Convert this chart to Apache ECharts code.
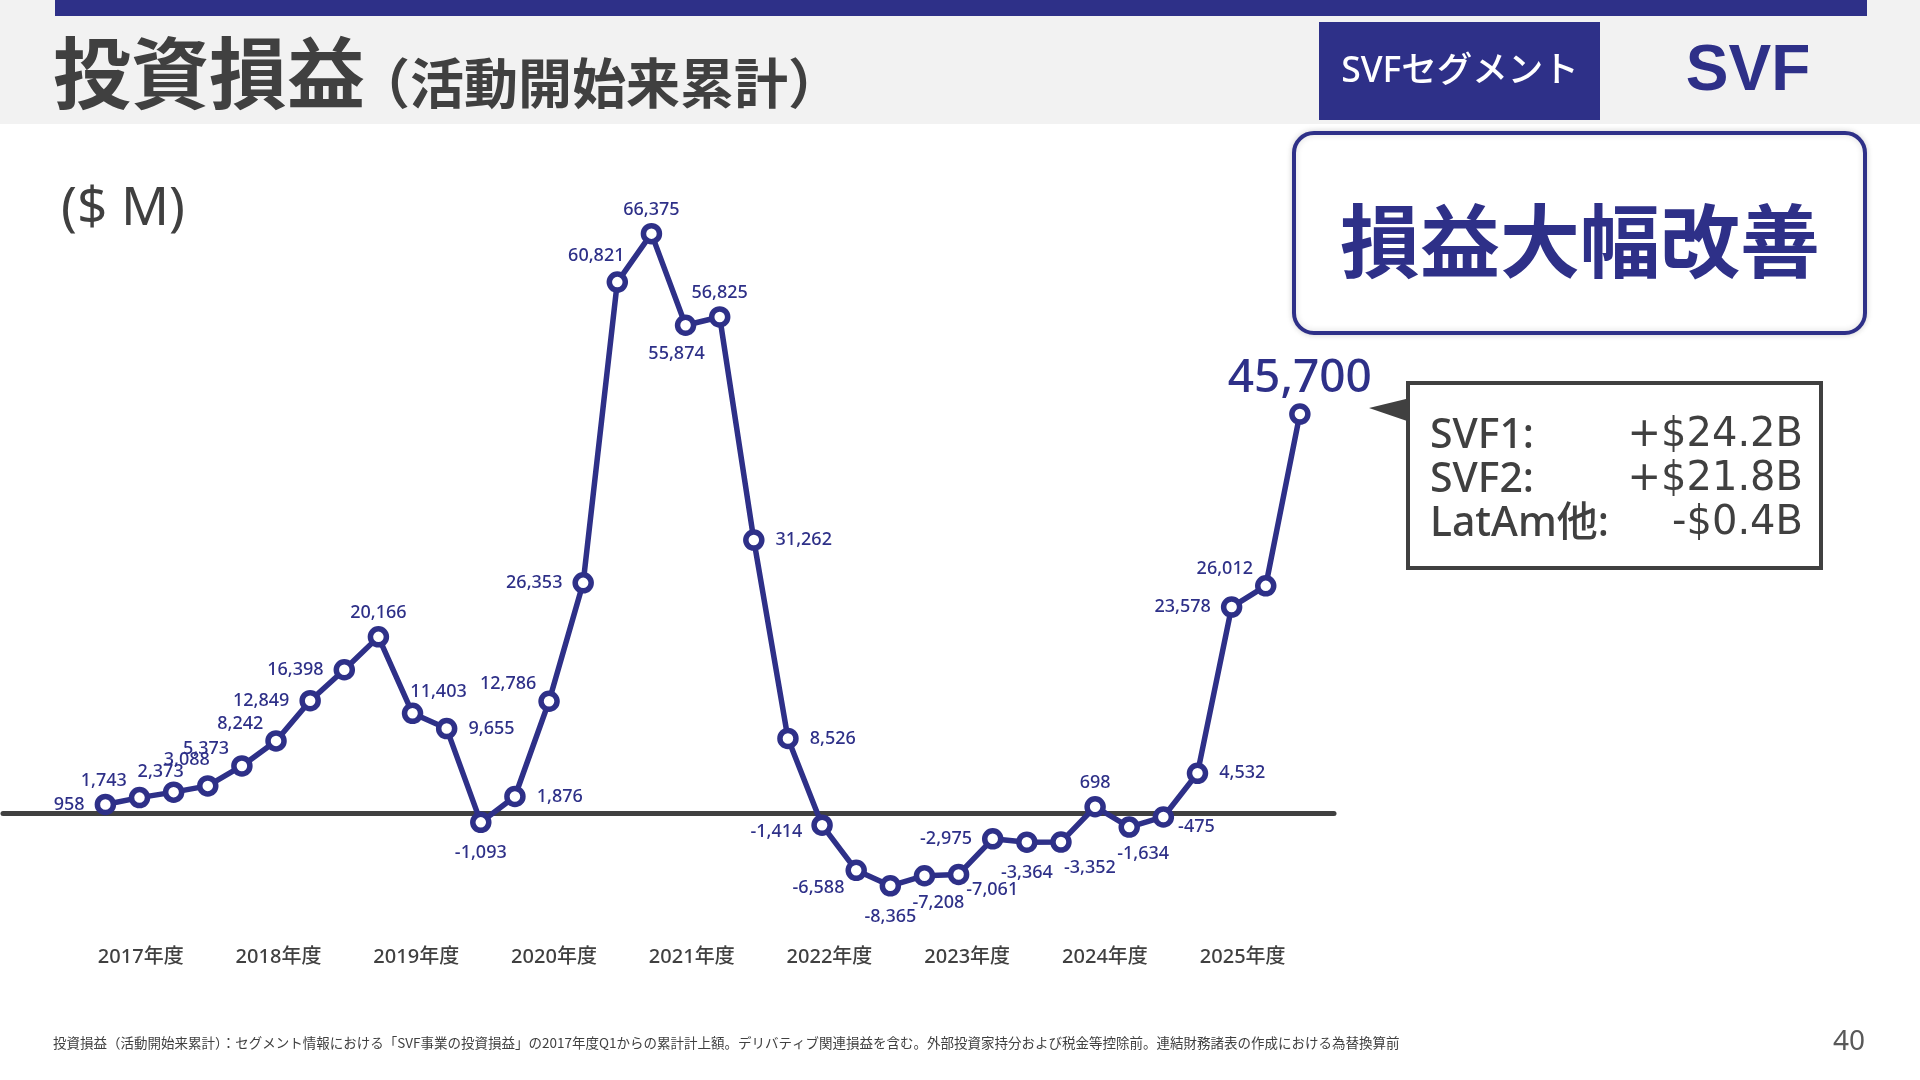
<!DOCTYPE html>
<html lang="ja">
<head>
<meta charset="utf-8">
<title>投資損益（活動開始来累計）</title>
<script src="https://cdn.jsdelivr.net/npm/echarts@6/dist/echarts.min.js"></script>
<style>
  html, body { margin: 0; padding: 0; background: #fff; }
  #chart { width: 1920px; height: 1080px; }
</style>
</head>
<body>
<div id="chart"></div>
<script>
// fiscal years, one label per 4 quarters
const fiscalYears = ['2017年度', '2018年度', '2019年度', '2020年度', '2021年度',
  '2022年度', '2023年度', '2024年度', '2025年度'];

// cumulative investment gain/loss since start, $M, one value per quarter
const cumulativePL = [
  958, 1743, 2373, 3088, 5373, 8242, 12849, 16398, 20166, 11403,
  9655, -1093, 1876, 12786, 26353, 60821, 66375, 55874, 56825, 31262,
  8526, -1414, -6588, -8365, -7208, -7061, -2975, -3364, -3352, 698,
  -1634, -475, 4532, 23578, 26012, 45700,
];

// where each value label sits around its point
const labelPlace = [
  'l', 'lt', 'tn', 'tl', 'lt', 'lt', 'l', 'l', 't', 'tr',
  'r', 'b', 'r', 'lt', 'l', 'tl', 't', 'bl', 't', 'r',
  'r', 'ld', 'lb', 'b', 'br', 'rb', 'l', 'b', 'bR', 't',
  'br', 'rd', 'r', 'l', 'lt', 't',
];

const fundNames = ['SVF1:', 'SVF2:', 'LatAm他:'];
const fundValues = ['+$24.2B', '+$21.8B', '-$0.4B'];

const NAVY = '#2e3088';
const INK = '#404040';
const LATIN = '"Noto Sans", "Noto Sans CJK JP", sans-serif';
const WIDE = '"DejaVu Sans", "Noto Sans", sans-serif';
const CJK = '"Noto Sans CJK JP", "Noto Sans", sans-serif';

const placements = {
  l: { position: 'left', distance: 10 },
  r: { position: 'right', distance: 11 },
  t: { position: 'top', distance: 4 },
  b: { position: 'bottom', distance: 11 },
  lt: { position: 'left', distance: 2, offset: [0, -17] },
  ld: { position: 'left', distance: 9, offset: [0, 7] },
  lb: { position: 'left', distance: 1, offset: [0, 18] },
  tn: { position: 'top', distance: 1, offset: [-13, 0] },
  tl: { position: 'top', distance: 6, offset: [-21, 0] },
  tr: { position: 'top', distance: 2, offset: [26, 0] },
  bl: { position: 'bottom', distance: 9, offset: [-9, 0] },
  br: { position: 'bottom', distance: 7, offset: [14, 0] },
  bR: { position: 'bottom', distance: 6, offset: [29, 0] },
  rb: { position: 'right', distance: -3, offset: [0, 15] },
  rd: { position: 'right', distance: 4, offset: [0, 10] },
};

const points = cumulativePL.map((v, i) => {
  const last = i === cumulativePL.length - 1;
  return {
    value: [i, v],
    label: Object.assign({}, placements[labelPlace[i]], last ? { fontSize: 46, distance: 1 } : {}),
  };
});

const calloutRows = [];
fundNames.forEach((name, i) => {
  const y = 436 + i * 44;
  calloutRows.push(
    { type: 'text', x: 1430, y: y, style: { text: name, fontSize: 41, fontFamily: LATIN, fontWeight: 500, fill: INK, align: 'left', verticalAlign: 'middle' } },
    { type: 'text', x: 1803, y: y, style: { text: fundValues[i], fontSize: 40, fontFamily: WIDE, fill: INK, align: 'right', verticalAlign: 'middle' } }
  );
});

const option = {
  backgroundColor: '#ffffff',
  animation: false,
  grid: { left: 0, top: 202, width: 1334, height: 733, containLabel: false },
  xAxis: [
    {
      // zero baseline
      type: 'value', min: -3, max: 36,
      axisLine: { show: true, onZero: true, lineStyle: { color: INK, width: 5 } },
      axisTick: { show: false }, axisLabel: { show: false }, splitLine: { show: false },
    },
    {
      // fiscal year labels
      type: 'value', min: -3, max: 35.65, interval: 4, position: 'bottom',
      axisLine: { show: false, onZero: false }, axisTick: { show: false }, splitLine: { show: false },
      axisLabel: {
        margin: 12, fontSize: 20, fontFamily: LATIN, fontWeight: 500, color: INK,
        formatter: (v) => {
          const k = Math.round((v - 1) / 4);
          return Math.abs((v - 1) / 4 - k) < 1e-6 && k >= 0 && k < fiscalYears.length ? fiscalYears[k] : '';
        },
      },
    },
  ],
  yAxis: { type: 'value', min: -14000, max: 70000, show: false, splitLine: { show: false } },
  series: [
    {
      type: 'line',
      xAxisIndex: 0,
      data: points,
      symbol: 'circle',
      symbolSize: 16,
      lineStyle: { color: NAVY, width: 5.5 },
      itemStyle: { color: '#ffffff', borderColor: NAVY, borderWidth: 5.5 },
      label: {
        show: true, color: NAVY, fontSize: 18, fontFamily: LATIN, fontWeight: 500,
        formatter: (p) => p.value[1].toLocaleString('en-US'),
      },
      z: 3,
    },
  ],
  graphic: [
    { type: 'rect', shape: { x: 0, y: 0, width: 1920, height: 124 }, style: { fill: '#f2f2f2' }, z: -10 },
    { type: 'rect', shape: { x: 55, y: 0, width: 1812, height: 16 }, style: { fill: NAVY } },
    { type: 'text', x: 53, y: 73, style: { text: '投資損益', fontSize: 78, fontFamily: CJK, fontWeight: 'bold', fill: INK, verticalAlign: 'middle' } },
    { type: 'text', x: 356, y: 83, style: { text: '（活動開始来累計）', fontSize: 54, fontFamily: CJK, fontWeight: 'bold', fill: INK, verticalAlign: 'middle' } },
    { type: 'rect', shape: { x: 1319, y: 22, width: 281, height: 98 }, style: { fill: NAVY } },
    { type: 'text', x: 1460, y: 72, style: { text: 'SVFセグメント', fontSize: 35.5, fontFamily: LATIN, fontWeight: 500, fill: '#ffffff', align: 'center', verticalAlign: 'middle' } },
    { type: 'text', x: 1748, y: 72, style: { text: 'SVF', fontSize: 64, fontFamily: '"Liberation Sans", Arial, sans-serif', fontWeight: 'bold', fill: NAVY, align: 'center', verticalAlign: 'middle' } },
    {
      type: 'rect', shape: { x: 1294, y: 133, width: 571, height: 200, r: 20 },
      style: { fill: '#ffffff', stroke: NAVY, lineWidth: 4, shadowBlur: 6, shadowColor: 'rgba(0,0,0,0.15)' },
    },
    { type: 'text', x: 1580, y: 241, style: { text: '損益大幅改善', fontSize: 80, fontFamily: CJK, fontWeight: 'bold', fill: NAVY, align: 'center', verticalAlign: 'middle' } },
    { type: 'text', x: 61, y: 210, style: { text: '($ M)', fontSize: 53, fontFamily: LATIN, fill: INK, verticalAlign: 'middle' } },
    { type: 'polygon', shape: { points: [[1369, 408], [1410, 398], [1410, 422]] }, style: { fill: INK } },
    { type: 'rect', shape: { x: 1408, y: 383, width: 413, height: 185 }, style: { fill: '#ffffff', stroke: INK, lineWidth: 4 } },
    ...calloutRows,
    {
      type: 'text', x: 53, y: 1043,
      style: {
        text: '投資損益（活動開始来累計）：セグメント情報における「SVF事業の投資損益」の2017年度Q1からの累計計上額。デリバティブ関連損益を含む。外部投資家持分および税金等控除前。連結財務諸表の作成における為替換算前',
        fontSize: 13.5, fontFamily: CJK, fill: INK, verticalAlign: 'middle',
      },
    },
    { type: 'text', x: 1849, y: 1042, style: { text: '40', fontSize: 28, fontFamily: LATIN, fill: '#595959', align: 'center', verticalAlign: 'middle' } },
  ],
};

const chart = echarts.init(document.getElementById('chart'));
chart.setOption(option);
</script>
</body>
</html>
